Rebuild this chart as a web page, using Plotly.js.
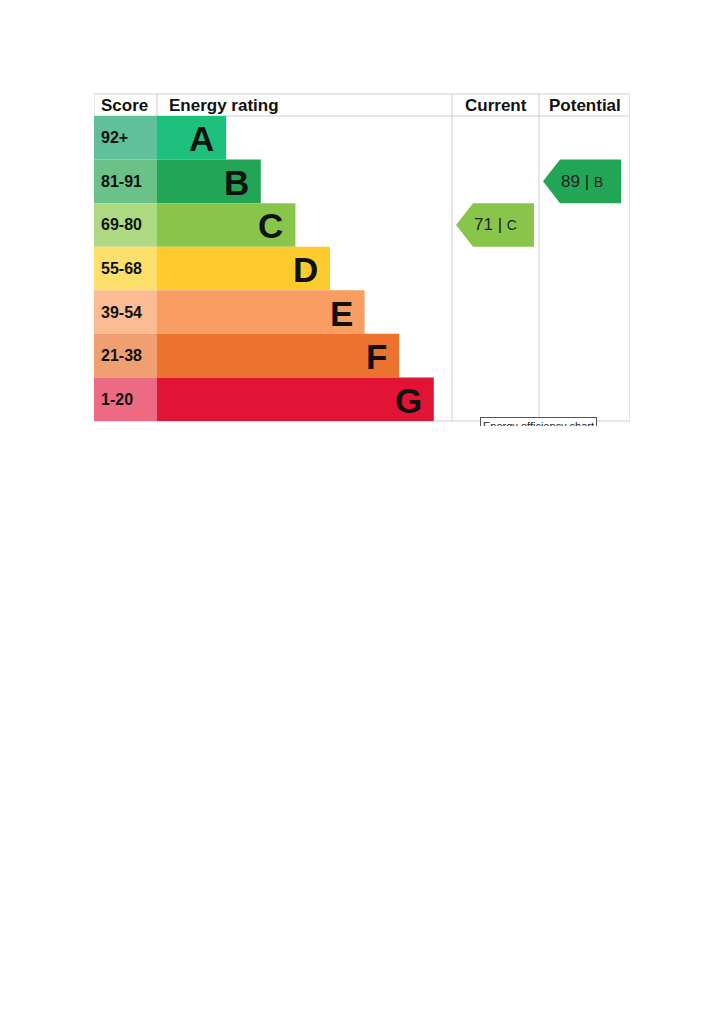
<!DOCTYPE html>
<html>
<head>
<meta charset="utf-8">
<script src="https://cdn.plot.ly/plotly-3.0.1.min.js"></script>
<style>
  body { margin: 0; background: #fff; }
  #chart { width: 724px; height: 426px; }
</style>
</head>
<body>
<div id="chart"></div>
<script>
// bands, top (best) to bottom
var bands = ['A', 'B', 'C', 'D', 'E', 'F', 'G'];
var scoreRanges = ['92+', '81-91', '69-80', '55-68', '39-54', '21-38', '1-20'];
var bandMins = [92, 81, 69, 55, 39, 21, 1];
var bandLengths = [2, 3, 4, 5, 6, 7, 8];
var bandColors = ['#1dc17d', '#22a655', '#88c54a', '#fecb2f', '#f99e62', '#eb732f', '#e21436'];
var scoreColors = ['#60c09c', '#6ac289', '#acd982', '#fde06b', '#fcbc93', '#f0a070', '#ec6a83'];

var currentScore = 71;
var potentialScore = 89;

// layout of the table, in bar units (one unit = one band step)
var scoreW = 1.82;
var curLeft = 8.526, potLeft = 11.04, tableRight = 13.67;
var arrowInset = 0.116, arrowW = 2.254, arrowTip = 0.491;
var idx = bands.map(function (b, i) { return i; });

function bandOf(score) {
  for (var i = 0; i < bandMins.length; i++) if (score >= bandMins[i]) return i;
  return bandMins.length - 1;
}

var scoreTrace = {
  type: 'bar', orientation: 'h',
  y: idx, x: bands.map(function () { return scoreW; }), base: -scoreW,
  width: 1, marker: {color: scoreColors, line: {width: 0}},
  hoverinfo: 'skip'
};
var bandTrace = {
  type: 'bar', orientation: 'h',
  y: idx, x: bandLengths, base: 0,
  width: 1, marker: {color: bandColors, line: {width: 0}},
  hoverinfo: 'skip'
};

function arrow(score, colLeft) {
  var b = bandOf(score);
  var t = colLeft + arrowInset;
  return {
    type: 'scatter', mode: 'lines', fill: 'toself',
    x: [t, t + arrowTip, t + arrowW, t + arrowW, t + arrowTip, t],
    y: [b, b - 0.5, b - 0.5, b + 0.5, b + 0.5, b],
    line: {width: 0, color: bandColors[b]}, fillcolor: bandColors[b],
    hoverinfo: 'skip'
  };
}

var font = 'Liberation Sans, Arial, sans-serif';
var annotations = [];
// score labels
scoreRanges.forEach(function (s, i) {
  annotations.push({x: -scoreW, y: i, xref: 'x', yref: 'y', text: s, showarrow: false,
    xanchor: 'left', yanchor: 'middle', xshift: 5,
    font: {family: font, size: 16, weight: 'bold', color: '#111'}});
});
// band letters
bands.forEach(function (b, i) {
  annotations.push({x: bandLengths[i], y: i, xref: 'x', yref: 'y', text: b, showarrow: false,
    xanchor: 'right', yanchor: 'middle', xshift: -10, yshift: -1,
    font: {family: font, size: 35, weight: 'bold', color: '#111'}});
});
// arrow labels
[[currentScore, curLeft], [potentialScore, potLeft]].forEach(function (p) {
  var b = bandOf(p[0]);
  annotations.push({x: p[1] + arrowInset + 0.46, y: b, xref: 'x', yref: 'y',
    text: p[0] + ' | <span style="font-size:14px">' + bands[b] + '</span>', showarrow: false,
    xanchor: 'left', yanchor: 'middle', font: {family: font, size: 17, color: '#222'}});
});
// header
var hy = 1.036;
var hfont = {family: font, size: 17, weight: 'bold', color: '#111'};
function head(x, text, anchor, shift) {
  annotations.push({x: x, y: hy, xref: 'x', yref: 'paper', text: text, showarrow: false,
    xanchor: anchor, yanchor: 'middle', xshift: shift, font: hfont});
}
head(-scoreW, 'Score', 'left', 5);
head(0, 'Energy rating', 'left', 10);
head((curLeft + potLeft) / 2, 'Current', 'center', 0);
head((potLeft + tableRight) / 2, 'Potential', 'center', 0);
// tooltip, cut by the bottom edge
annotations.push({x: 9.335, y: 0.0131, xref: 'x', yref: 'paper', text: 'Energy efficiency chart', showarrow: false,
  xanchor: 'left', yanchor: 'top', bgcolor: '#fff', bordercolor: '#555', borderwidth: 1, borderpad: 2,
  font: {family: font, size: 11, color: '#222'}});

var lc = '#cfcfcf';
function vline(x, y0, y1) {
  return {type: 'line', xref: 'x', yref: 'paper', x0: x, x1: x, y0: y0, y1: y1, line: {color: lc, width: 1}, layer: 'below'};
}
function hline(y) {
  return {type: 'line', xref: 'x', yref: 'paper', x0: -scoreW, x1: tableRight, y0: y, y1: y, line: {color: lc, width: 1}, layer: 'below'};
}
var shapes = [
  hline(1.0721), hline(1), hline(0),
  vline(-scoreW, 0, 1.0721), vline(0, 1, 1.0721),
  vline(curLeft, 0, 1.0721), vline(potLeft, 0, 1.0721), vline(tableRight, 0, 1.0721)
];

var layout = {
  width: 724, height: 426,
  margin: {l: 94, r: 94, t: 116, b: 5},
  paper_bgcolor: '#fff', plot_bgcolor: '#fff',
  showlegend: false, barmode: 'overlay',
  xaxis: {range: [-scoreW, tableRight], showgrid: false, zeroline: false, showticklabels: false, fixedrange: true},
  yaxis: {range: [6.5, -0.5], showgrid: false, zeroline: false, showticklabels: false, fixedrange: true},
  shapes: shapes,
  annotations: annotations
};

Plotly.newPlot('chart', [scoreTrace, bandTrace, arrow(currentScore, curLeft), arrow(potentialScore, potLeft)], layout,
  {displayModeBar: false, staticPlot: true});
</script>
</body>
</html>
